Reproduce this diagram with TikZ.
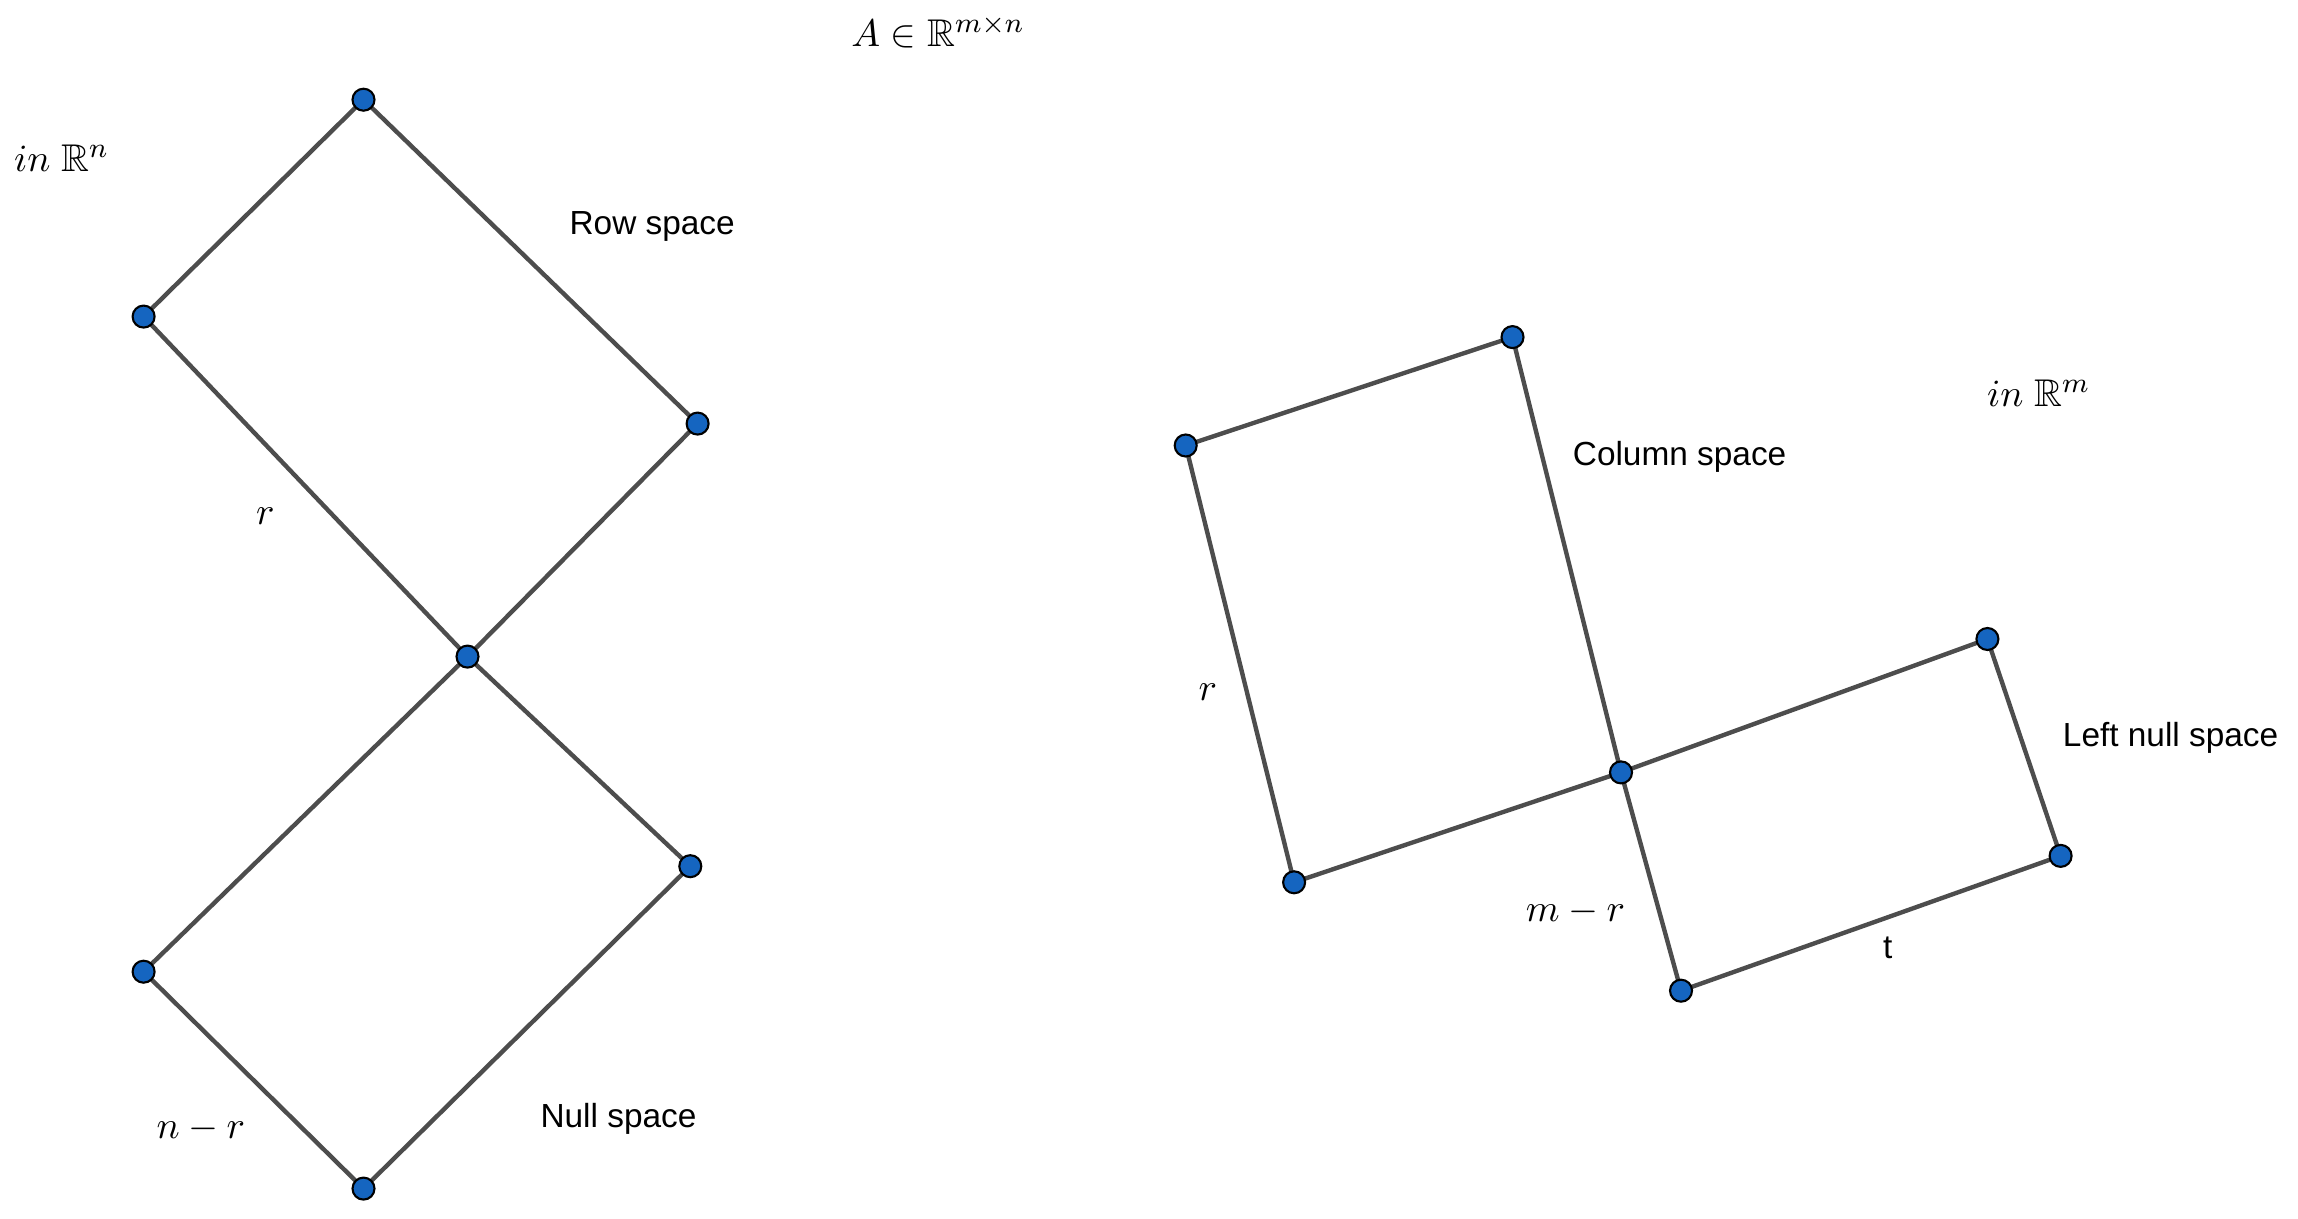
\documentclass[tikz,border=0pt]{standalone}
\usepackage{amssymb}
\usepackage{fontspec}
\setmainfont{Liberation Sans}
\definecolor{edgegray}{HTML}{4D4D4D}
\definecolor{dotblue}{HTML}{1565C0}
\tikzset{
    dot/.style={circle, fill=dotblue, draw=black, line width=0.6pt, inner sep=0pt, minimum size=0.22cm},
    side/.style={draw=edgegray, line width=1.25pt},
    lbl/.style={font=\fontsize{9.5}{11}\selectfont, yshift=-0.04cm},
    mlbl/.style={font=\fontsize{11}{13}\selectfont}
}
\begin{document}
\begin{tikzpicture}
    \useasboundingbox (0,0) rectangle (22.98,12.18);

    % Zeilen- und Nullraum in R^n
    \foreach \name/\x/\y in {rt/3.635/11.183, rl/1.436/9.014, rr/6.976/7.944,
                             o1/4.675/5.614, nl/1.436/2.463, nr/6.903/3.518,
                             nb/3.635/0.294} {
        \coordinate (\name) at (\x,\y);
    }
    \draw[side] (rt) -- (rl) -- (o1) -- (rr) -- (rt);
    \draw[side] (o1) -- (nl) -- (nb) -- (nr) -- (o1);

    % Spalten- und linker Nullraum in R^m
    \foreach \name/\x/\y in {ca/11.857/7.725, cb/15.125/8.809, o2/16.210/4.456,
                             cd/12.941/3.357, le/19.874/5.790, lf/20.606/3.621,
                             lg/16.810/2.273} {
        \coordinate (\name) at (\x,\y);
    }
    \draw[side] (ca) -- (cb) -- (o2) -- (cd) -- (ca);
    \draw[side] (o2) -- (le) -- (lf) -- (lg) -- (o2);

    % Punkte
    \foreach \p in {rt,rl,rr,o1,nl,nr,nb,ca,cb,o2,cd,le,lf,lg} {
        \node[dot] (d\p) at (\p) {};
    }

    % Beschriftungen
    \node[mlbl] (matA) at (9.380,11.858) {$A\in\mathbb{R}^{m\times n}$};
    \node[mlbl] (inRn) at (0.616,10.597) {$in\ \mathbb{R}^n$};
    \node[lbl] (rowsp) at (6.522,9.952) {Row space};
    \node[mlbl] (rkl) at (2.653,7.021) {$r$};
    \node[mlbl] (nmr) at (2.008,0.895) {$n-r$};
    \node[lbl] (nullsp) at (6.185,1.027) {Null space};
    \node[mlbl] (inRm) at (20.386,8.252) {$in\ \mathbb{R}^m$};
    \node[lbl] (colsp) at (16.796,7.651) {Column space};
    \node[mlbl] (rkr) at (12.077,5.262) {$r$};
    \node[lbl] (lnullsp) at (21.706,4.837) {Left null space};
    \node[mlbl] (mmr) at (15.755,3.064) {$m-r$};
    \node[lbl] (tl) at (18.877,2.741) {t};
\end{tikzpicture}
\end{document}
